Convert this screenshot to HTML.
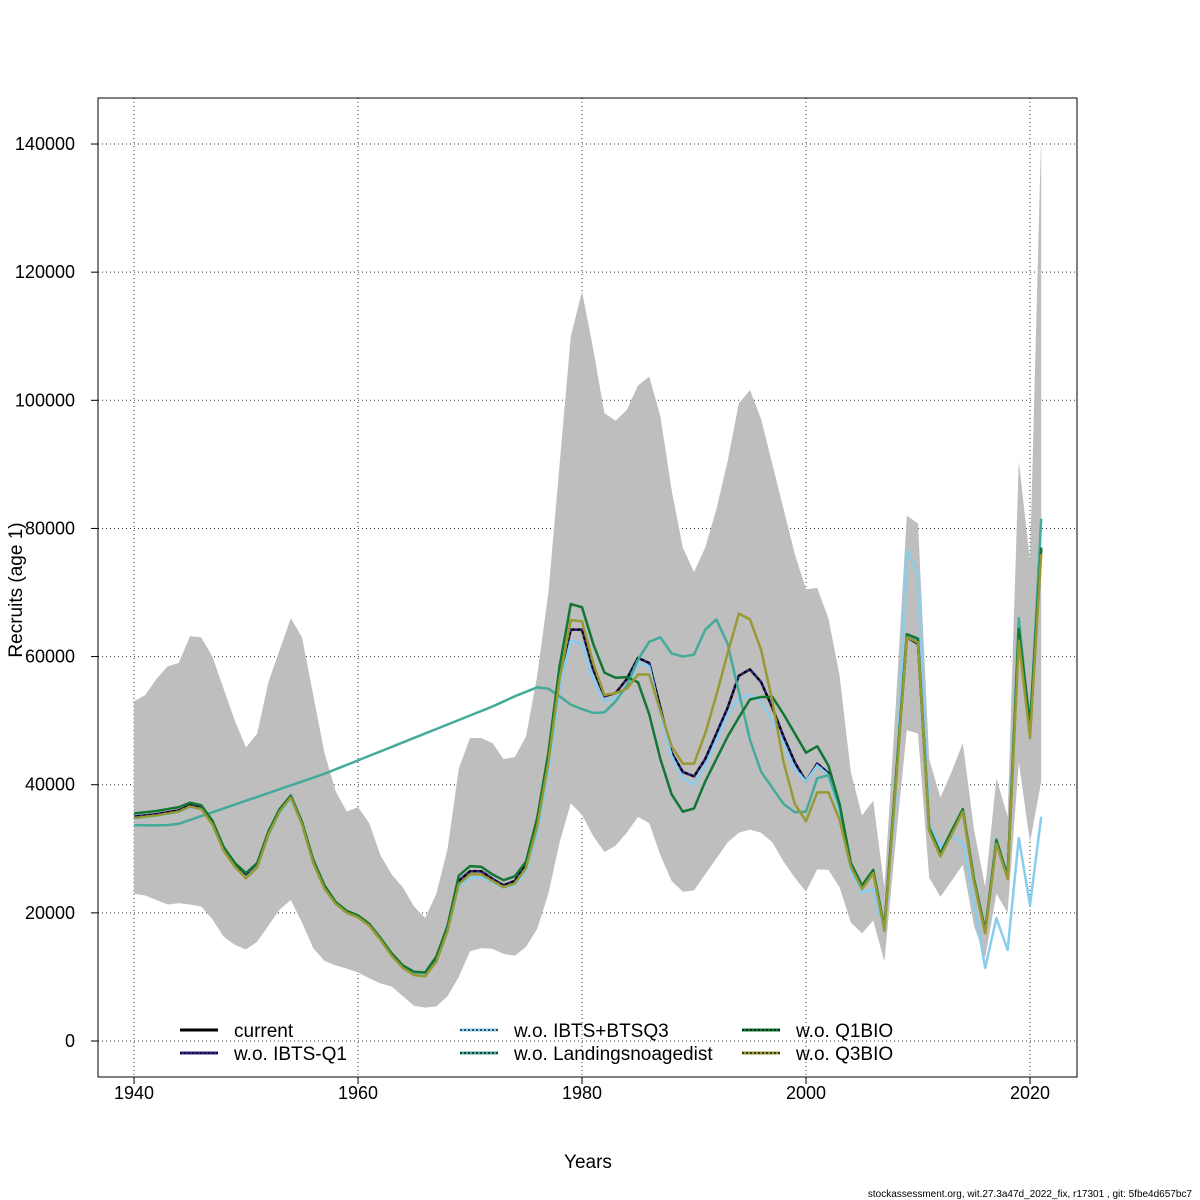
<!DOCTYPE html>
<html><head><meta charset="utf-8"><style>
body{margin:0;background:#fff}
svg{display:block;font-family:"Liberation Sans",Arial,sans-serif}
</style></head><body>
<svg id="chart" width="1200" height="1200" viewBox="0 0 1200 1200">
<rect width="1200" height="1200" fill="#fff"/>
<g id="grid"></g>
<g id="ribbon"></g>
<g id="series"></g>
<rect x="98" y="98" width="979" height="979" fill="none" stroke="#000" stroke-width="1"/>
<g id="axes" font-size="18"></g>
<text x="588" y="1168" font-size="19" text-anchor="middle">Years</text>
<text transform="translate(22,590) rotate(-90)" font-size="19" text-anchor="middle">Recruits (age 1)</text>
<text x="1192" y="1197" font-size="10" text-anchor="end">stockassessment.org, wit.27.3a47d_2022_fix, r17301 , git: 5fbe4d657bc7</text>
<g id="legend" font-size="19"></g>
</svg>
<script>
const years=[];for(let y=1940;y<=2021;y++)years.push(y);
const xTicks=[1940,1960,1980,2000,2020];
const yTicks=[0,20000,40000,60000,80000,100000,120000,140000];
const current=[35000,35200,35400,35700,36000,36800,36400,34000,30000,27500,
25800,27500,32500,36000,38200,34000,28000,24000,21500,20200,
19500,18200,16000,13500,11600,10600,10500,12800,17500,25000,
26500,26500,25300,24300,25000,27500,34000,44000,57000,64200,
64200,58000,53800,54300,56500,59800,59000,52000,45000,42000,
41300,44000,48000,52000,57000,58000,56000,52000,47500,43500,
40500,43300,41800,36000,27500,24000,26500,17500,40000,63000,
62000,33000,29000,32500,36000,25000,17000,31000,25500,64000,
48000,77000];
const lower=[23000,22700,22000,21300,21500,21300,21000,19000,16300,15000,
14300,15500,18000,20500,22000,18500,14500,12500,11800,11300,
10700,9800,9000,8500,7000,5500,5200,5400,7000,10000,
14000,14500,14400,13600,13300,14700,17500,23000,31000,37100,
35300,32000,29500,30500,32500,35000,34000,29000,25000,23300,
23500,26000,28500,31000,32500,33000,32500,31000,28000,25500,
23300,26800,26700,24000,18500,16800,18800,12400,31000,48500,
48000,25500,22500,25000,27500,18000,13000,23000,20000,43500,
31000,40500];
const upper=[53000,54000,56500,58500,59000,63200,63000,60000,55000,50000,
45800,48000,56000,61000,66000,63000,54000,45000,39000,35800,
36500,34000,29000,26000,24000,21000,19200,23000,30000,42500,
47300,47300,46500,44000,44300,47500,57000,70000,90000,110000,
117000,108000,98000,96800,98500,102300,103700,97500,86000,77000,
73200,77000,83000,90500,99500,101600,97000,90000,83000,76000,
70500,70700,66000,57000,42000,35200,37500,24000,52000,82000,
80800,44000,38000,42000,46500,33000,24000,41000,35000,90500,
75000,141500];
const woIbtsBtsq3=[34700,34900,35100,35400,35700,36500,36200,33800,29800,27200,
25500,27200,32000,35500,37700,33700,27800,23800,21300,20000,
19300,18000,15800,13300,11400,10400,10300,12400,17000,24000,
25500,25500,24800,23900,24400,26500,32500,42000,55000,62500,
62000,56500,53000,53500,55000,59000,58500,51000,44500,41000,
40000,43000,47000,51000,53500,54000,53000,50000,46500,42500,
40500,43000,41500,35500,26500,23200,23700,17000,38000,76500,
73000,34000,30300,32000,31000,21500,11400,19200,14200,31700,
21200,35000];
const woLandings=[33700,33650,33650,33700,33900,34500,35100,35700,36300,36900,
37500,38100,38700,39300,39900,40500,41100,41700,42400,43100,
43800,44500,45200,45900,46600,47300,48000,48700,49400,50100,
50800,51500,52200,53000,53800,54500,55200,55000,53800,52500,
51800,51200,51300,53000,55500,59500,62300,63000,60500,60000,
60300,64200,65800,62000,54500,47000,42000,39500,37000,35700,
35800,41000,41500,36500,27500,24000,26500,17500,40000,63500,
62500,33000,29000,32500,36000,25000,17000,31500,25500,66000,
48500,81500];
const woQ1bio=[35500,35700,35900,36200,36500,37200,36800,34400,30300,27800,
26200,27800,32700,36200,38300,34200,28300,24300,21700,20300,
19600,18300,16100,13700,11800,10800,10700,13200,18000,25800,
27300,27200,26000,25100,25700,28000,34800,45000,58500,68200,
67700,62000,57500,56700,56800,56000,51000,44000,38500,35800,
36300,40500,44000,47500,50500,53300,53700,53700,51000,48000,
45000,46000,43000,37000,27800,24300,26700,17700,40500,63500,
62800,33300,29300,32800,36200,25300,17300,31300,25800,64300,
49500,77000];
const woQ3bio=[34800,35000,35200,35500,35800,36600,36200,33800,29700,27200,
25400,27100,32200,35800,38000,33800,27800,23800,21400,20000,
19300,18000,15800,13300,11400,10300,10100,12400,17200,24500,
26000,26000,25000,24000,24600,27000,33500,43500,56500,65700,
65500,59000,54000,54300,55000,57200,57200,51500,46000,43300,
43300,48000,54000,60500,66700,65800,61000,53000,43500,37000,
34300,38800,38800,34500,27200,23700,26200,17200,39500,63000,
62200,32800,28800,32200,35800,24800,16800,30800,25300,62500,
47300,76000];

const NS='http://www.w3.org/2000/svg';
const X=v=>134+(v-1940)*11.2;
const Y=v=>1041-v*0.006407;
function mk(tag,parent,attrs){const e=document.createElementNS(NS,tag);for(const k in attrs)e.setAttribute(k,attrs[k]);parent.appendChild(e);return e;}
const grid=document.getElementById('grid'),axes=document.getElementById('axes');
xTicks.forEach(t=>{
  const l=mk('line',grid,{x1:X(t),x2:X(t),y1:98,y2:1077,stroke:'#333','stroke-width':1,'stroke-dasharray':'1,3'});
  
  
  const tk=mk('line',axes,{x1:X(t),x2:X(t),y1:1077,y2:1084,stroke:'#000'});
  
  
  const tx=mk('text',axes,{x:X(t),y:1099,'text-anchor':'middle'});tx.textContent=t;
  
  
});
yTicks.forEach(t=>{
  const l=mk('line',grid,{x1:98,x2:1077,y1:Y(t),y2:Y(t),stroke:'#333','stroke-width':1,'stroke-dasharray':'1,3'});
  
  
  const tk=mk('line',axes,{x1:91,x2:98,y1:Y(t),y2:Y(t),stroke:'#000'});
  
  
  const tx=mk('text',axes,{x:75,y:Y(t)+6,'text-anchor':'end'});tx.textContent=t;
  
  
});
// ribbon
let d='';years.forEach((y,i)=>{d+=(i?'L':'M')+X(y)+','+Y(upper[i]);});
for(let i=years.length-1;i>=0;i--)d+='L'+X(years[i])+','+Y(lower[i]);
const rb=mk('path',document.getElementById('ribbon'),{d:d+'Z',fill:'#bebebe',stroke:'none'});


const sg=document.getElementById('series');
function line(arr,col,name,dash){
  const pts=years.map((y,i)=>X(y)+','+Y(arr[i])).join(' ');
  const a={points:pts,fill:'none',stroke:col,'stroke-width':2.5,'stroke-linejoin':'round'};
  if(dash)a['stroke-dasharray']=dash;
  const p=mk('polyline',sg,a);
  
  
}
line(current,'#000000','line-current');
line(current,'#332288','line-wo-ibts-q1','3,3');
line(woIbtsBtsq3,'#88ccee','line-wo-ibts-btsq3');
line(woLandings,'#44aa99','line-wo-landingsnoagedist');
line(woQ1bio,'#117733','line-wo-q1bio');
line(woQ3bio,'#999933','line-wo-q3bio');
// legend
const lg=document.getElementById('legend');
const items=[['current','#000',180,1030],['w.o. IBTS-Q1','#332288',180,1053],['w.o. IBTS+BTSQ3','#88ccee',460,1030],['w.o. Landingsnoagedist','#44aa99',460,1053],['w.o. Q1BIO','#117733',742,1030],['w.o. Q3BIO','#999933',742,1053]];
items.forEach((it,i)=>{
  const g=mk('g',lg,{});
  
  
  mk('line',g,{x1:it[2],x2:it[2]+38,y1:it[3],y2:it[3],stroke:it[1],'stroke-width':3});
  if(i>0)mk('line',g,{x1:it[2],x2:it[2]+38,y1:it[3],y2:it[3],stroke:'#000','stroke-width':1.2,'stroke-dasharray':'2,2'});
  const t=mk('text',g,{x:it[2]+54,y:it[3]+7});t.textContent=it[0];
});
</script>
</body></html>
